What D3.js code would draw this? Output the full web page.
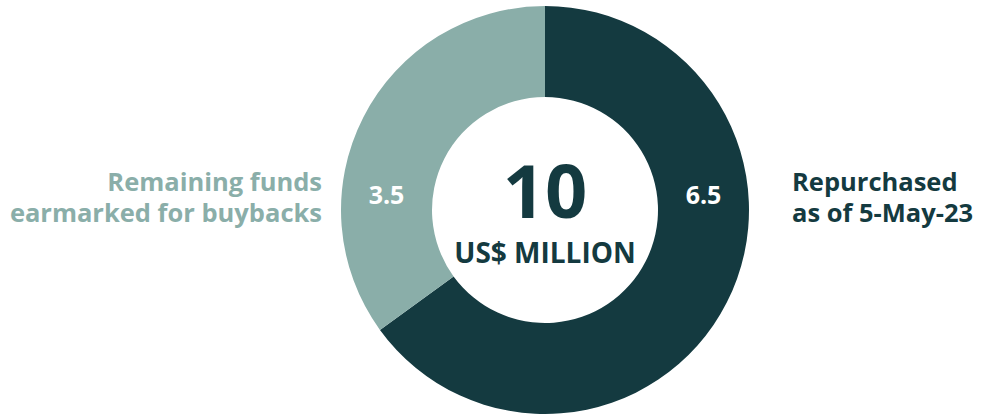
<!DOCTYPE html>
<html>
<head>
<meta charset="utf-8">
<script src="https://cdn.jsdelivr.net/npm/d3@7"></script>
<style>
  body { margin: 0; background: #fff; }
  text { font-family: "Open Sans", "Noto Sans", sans-serif; font-weight: 700; }
</style>
</head>
<body>
<div id="chart"></div>
<script>
const categories = ["Repurchased as of 5-May-23", "Remaining funds earmarked for buybacks"]
const values = [6.5, 3.5]
const colors = ["#143a40", "#8aaea9"]
const labelLines = [["Repurchased", "as of 5-May-23"], ["Remaining funds", "earmarked for buybacks"]]
const totalLabel = "10"
const unitLabel = "US$ MILLION"

const width = 984
const height = 416
const cx = 545
const cy = 210
const outerR = 204
const innerR = 113

const svg = d3.select("#chart")
  .append("svg")
  .attr("width", width)
  .attr("height", height)

const g = svg.append("g").attr("transform", `translate(${cx},${cy})`)

const pie = d3.pie().sort(null).value(d => d)
const arcs = pie(values)
const arc = d3.arc().innerRadius(innerR).outerRadius(outerR)

g.selectAll("path.slice")
  .data(arcs)
  .join("path")
    .attr("class", "slice")
    .attr("d", arc)
    .attr("fill", (d, i) => colors[i])

// value labels sit on the ring at mid radius, near the horizontal
const midR = (innerR + outerR) / 2
g.selectAll("text.val")
  .data(arcs)
  .join("text")
    .attr("class", "val")
    .attr("x", (d, i) => (i === 0 ? 1 : -1) * midR)
    .attr("y", -13)
    .attr("dominant-baseline", "middle")
    .attr("text-anchor", "middle")
    .attr("fill", "#fff")
    .attr("font-size", "25px")
    .text(d => d.data)

g.append("text")
  .attr("x", 0)
  .attr("y", 8)
  .attr("text-anchor", "middle")
  .attr("fill", "#143a40")
  .attr("font-size", "74px")
  .text(totalLabel)

g.append("text")
  .attr("x", 0)
  .attr("y", 53)
  .attr("text-anchor", "middle")
  .attr("fill", "#143a40")
  .attr("font-size", "28px")
  .text(unitLabel)

// side labels
const side = svg.selectAll("text.side")
  .data(labelLines)
  .join("text")
    .attr("class", "side")
    .attr("x", (d, i) => i === 0 ? 792 : 322)
    .attr("text-anchor", (d, i) => i === 0 ? "start" : "end")
    .attr("fill", (d, i) => colors[i])
    .attr("font-size", "25.5px")

side.selectAll("tspan")
  .data(d => d)
  .join("tspan")
    .attr("x", function () { return this.parentNode.getAttribute("x") })
    .attr("y", (d, i) => 191 + i * 31)
    .text(d => d)
</script>
</body>
</html>
